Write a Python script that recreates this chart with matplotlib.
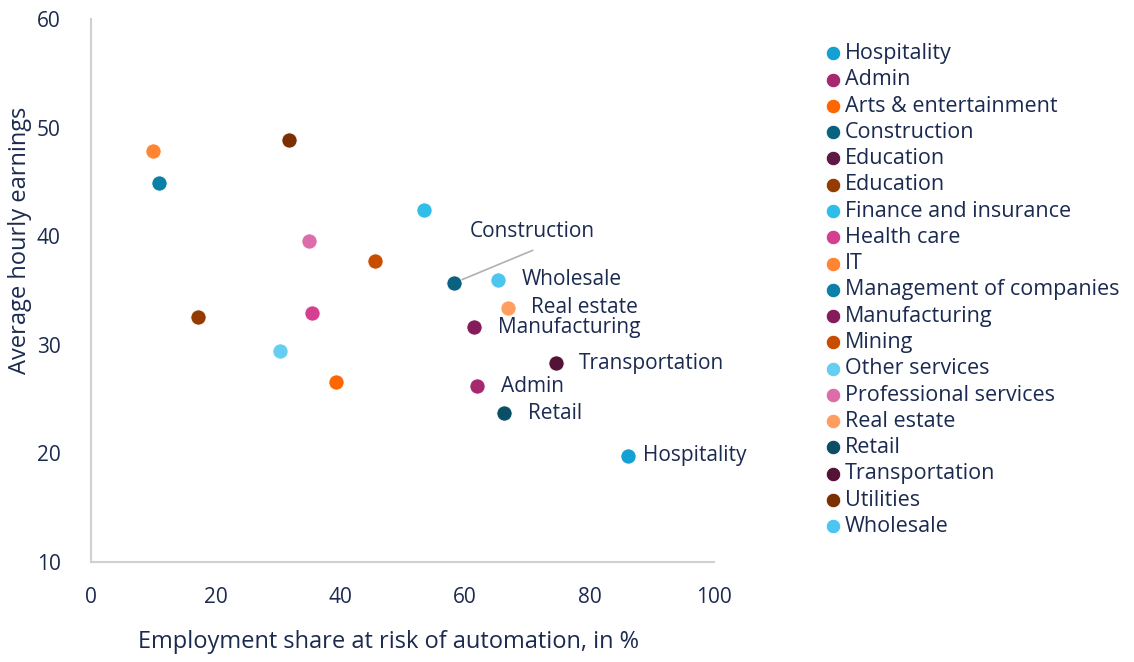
import matplotlib
matplotlib.use("Agg")
import matplotlib.pyplot as plt

plt.rcParams['font.family'] = ['Open Sans', 'DejaVu Sans']

sectors = ["Hospitality", "Admin", "Arts & entertainment", "Construction", "Education",
           "Education", "Finance and insurance", "Health care", "IT",
           "Management of companies", "Manufacturing", "Mining", "Other services",
           "Professional services", "Real estate", "Retail", "Transportation",
           "Utilities", "Wholesale"]
risk = [86.2, 62.0, 39.3, 58.3, None, 17.2, 53.4, 35.5, 9.9, 10.9, 61.5, 45.6, 30.3,
        35.0, 66.9, 66.3, 74.6, 31.8, 65.3]
earnings = [19.8, 26.2, 26.6, 35.7, None, 32.6, 42.4, 32.9, 47.8, 44.9, 31.6, 37.7, 29.4,
            39.6, 33.4, 23.7, 28.3, 48.9, 36.0]
colors = ["#13a0d3", "#a6286e", "#ff6600", "#0a6180", "#5e1845", "#943c00", "#2fbdea",
          "#d43f91", "#ff8533", "#0d80a8", "#841c5c", "#c84d00", "#66cef0", "#dd6daa",
          "#ff9e5e", "#0a4f66", "#541235", "#7a3000", "#4cc6ef"]
labelled = ["Hospitality", "Admin", "Manufacturing", "Real estate", "Retail",
            "Transportation", "Wholesale"]

txt = "#1b2a50"
fs = 15
fig = plt.figure(figsize=(11.34, 6.62), dpi=100)
ax = fig.add_axes([91/1134, 1-562/662, (714-91)/1134, (562-19)/662])

for i, (name, x, y, c) in enumerate(zip(sectors, risk, earnings, colors)):
    xs = [] if x is None else [x]
    ys = [] if y is None else [y]
    ax.scatter(xs, ys, s=120, color=c, edgecolors='white', linewidths=0.6,
               label=name, zorder=3)
    if name in labelled:
        off = 11 if name == "Hospitality" else 17
        ax.annotate(name, (x, y), xytext=(off, 0), textcoords='offset points',
                    ha='left', va='center', fontsize=fs, color=txt)

# Construction label with leader line
ci = 3
ax.annotate("Construction", (risk[ci], earnings[ci]), xytext=(60.8, 40.4),
            textcoords='data', ha='left', va='center', fontsize=fs, color=txt)
ax.annotate("", (risk[ci], earnings[ci]), xytext=(70.9, 38.7), textcoords='data',
            arrowprops=dict(arrowstyle='-', color='#b0b0b0', lw=1.2,
                            shrinkA=0, shrinkB=0), zorder=2)

ax.set_xlim(0, 100)
ax.set_ylim(10, 60)
ax.set_xticks([0, 20, 40, 60, 80, 100])
ax.set_yticks([10, 20, 30, 40, 50, 60])
for s in ['top', 'right']:
    ax.spines[s].set_visible(False)
for s in ['left', 'bottom']:
    ax.spines[s].set_color('#d0d0d0')
    ax.spines[s].set_linewidth(1.5)
ax.tick_params(length=0, labelsize=fs, colors=txt)
ax.tick_params(axis='x', pad=18)
ax.tick_params(axis='y', pad=22)
ax.set_xlabel("Employment share at risk of automation, in %", fontsize=17, color=txt)
ax.set_ylabel("Average hourly earnings", fontsize=17, color=txt)
ax.xaxis.set_label_coords((388 - 91) / 623, -(642 - 562) / 543, transform=ax.transAxes)
ax.yaxis.set_label_coords(-(91 - 20) / 623, (562 - 240) / 543, transform=ax.transAxes)
ax.xaxis.label.set_va('center')
ax.yaxis.label.set_va('center')

leg = fig.legend(loc='upper left', bbox_to_anchor=(822/1134, 1-43/662), frameon=False,
                 fontsize=15.5, labelspacing=0.245, handletextpad=0.05, markerscale=0.95,
                 borderpad=0, borderaxespad=0, handlelength=1.0)
for t in leg.get_texts():
    t.set_color(txt)

fig.savefig("out.png", dpi=100)
